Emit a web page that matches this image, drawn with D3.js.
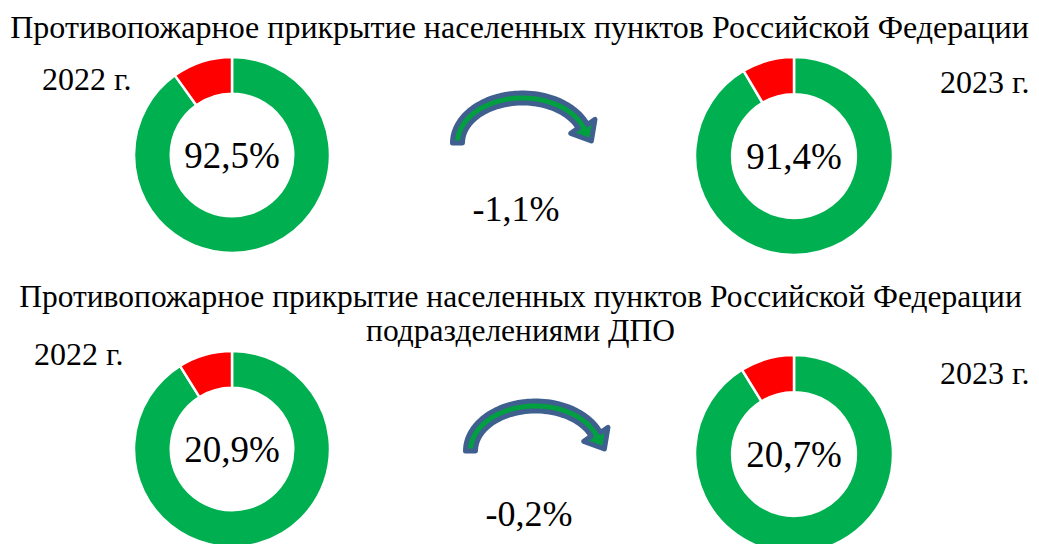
<!DOCTYPE html>
<html>
<head>
<meta charset="utf-8">
<script src="https://cdn.jsdelivr.net/npm/d3@7"></script>
<style>
  body { margin: 0; background: #fff; }
  svg { display: block; }
</style>
</head>
<body>
<div id="chart"></div>
<script>
// Данные
const titles = [
  ["Противопожарное прикрытие населенных пунктов Российской Федерации"],
  ["Противопожарное прикрытие населенных пунктов Российской Федерации", "подразделениями ДПО"]
];
const years = ["2022 г.", "2023 г."];
const shareLabels = ["92,5%", "91,4%", "20,9%", "20,7%"];
const deltaLabels = ["-1,1%", "-0,2%"];
// доли секторов, как на рисунке (зелёный / красный)
const greenShare = [90.1, 91.5, 91.1, 91.2];
const redShare = [9.9, 8.5, 8.9, 8.8];

const FONT = "'Liberation Serif', 'Times New Roman', 'DejaVu Serif', serif";
const W = 1039, H = 544;
const svg = d3.select("#chart").append("svg")
  .attr("width", W).attr("height", H)
  .attr("font-family", FONT);

// Положение колец
const donuts = [
  { cx: 232, cy: 155, r: 98 },
  { cx: 794, cy: 156, r: 99 },
  { cx: 232, cy: 449, r: 98 },
  { cx: 794, cy: 454, r: 99 }
];

const color = d3.scaleOrdinal().domain(["green", "red"]).range(["#00b050", "#ff0000"]);
const pie = d3.pie().sort(null).value(d => d.v);

donuts.forEach((p, i) => {
  const data = [{ k: "green", v: greenShare[i] }, { k: "red", v: redShare[i] }];
  const arc = d3.arc().innerRadius(p.r * 0.625).outerRadius(p.r);
  const g = svg.append("g").attr("transform", `translate(${p.cx},${p.cy})`);
  g.selectAll("path")
    .data(pie(data))
    .enter().append("path")
    .attr("d", arc)
    .attr("fill", d => color(d.data.k))
    .attr("stroke", "#fff")
    .attr("stroke-width", 2.5);
  g.append("text")
    .attr("text-anchor", "middle")
    .attr("y", 13)
    .style("font-size", "37px")
    .text(shareLabels[i]);
});

// Заголовки
svg.append("text")
  .attr("x", W / 2).attr("y", 38)
  .attr("text-anchor", "middle")
  .style("font-size", "32px")
  .text(titles[0][0]);

titles[1].forEach((t, j) => {
  svg.append("text")
    .attr("x", W / 2 + 1).attr("y", 307 + j * 34)
    .attr("text-anchor", "middle")
    .style("font-size", "31.5px")
    .text(t);
});

// Годы
const yearPos = [
  { x: 42, y: 90, t: years[0] },
  { x: 940, y: 93, t: years[1] },
  { x: 34, y: 365, t: years[0] },
  { x: 940, y: 384, t: years[1] }
];
svg.selectAll(".year")
  .data(yearPos)
  .enter().append("text")
  .attr("class", "year")
  .attr("x", d => d.x).attr("y", d => d.y)
  .style("font-size", "32px")
  .text(d => d.t);

// Стрелки
function arrowPath(x0, y0) {
  const rx = 65, ry = 45, h = 5;
  const cx = x0 + 72.5, cy = y0;
  const t1 = 0.38;
  const ts = d3.range(Math.PI, t1, -0.05).concat([t1]);
  const outer = ts.map(t => [cx + (rx + h) * Math.cos(t), cy - (ry + h) * Math.sin(t)]);
  const inner = ts.map(t => [cx + (rx - h) * Math.cos(t), cy - (ry - h) * Math.sin(t)]).reverse();
  const mid = [cx + rx * Math.cos(t1), cy - ry * Math.sin(t1)];
  let tx = rx * Math.sin(t1), ty = ry * Math.cos(t1);
  const tl = Math.hypot(tx, ty); tx /= tl; ty /= tl;
  let nx = Math.cos(t1) * ry, ny = -Math.sin(t1) * rx;
  const nl = Math.hypot(nx, ny); nx /= nl; ny /= nl;
  const w = h + 9;
  const head = [
    [mid[0] + nx * w, mid[1] + ny * w],
    [mid[0] + tx * 17, mid[1] + ty * 17],
    [mid[0] - nx * w, mid[1] - ny * w]
  ];
  return d3.line()(outer.concat(head, inner)) + "Z";
}

const arrows = [{ x: 450, y: 143 }, { x: 463, y: 451 }];
svg.selectAll(".arrow")
  .data(arrows)
  .enter().append("path")
  .attr("class", "arrow")
  .attr("d", d => arrowPath(d.x, d.y))
  .attr("fill", "#00a040")
  .attr("stroke", "#3f5f8f")
  .attr("stroke-width", 5)
  .attr("stroke-linejoin", "round");

// Изменения
const deltaPos = [{ x: 516, y: 221 }, { x: 529, y: 526 }];
svg.selectAll(".delta")
  .data(deltaPos)
  .enter().append("text")
  .attr("class", "delta")
  .attr("x", d => d.x).attr("y", d => d.y)
  .attr("text-anchor", "middle")
  .style("font-size", "36px")
  .text((d, i) => deltaLabels[i]);
</script>
</body>
</html>
